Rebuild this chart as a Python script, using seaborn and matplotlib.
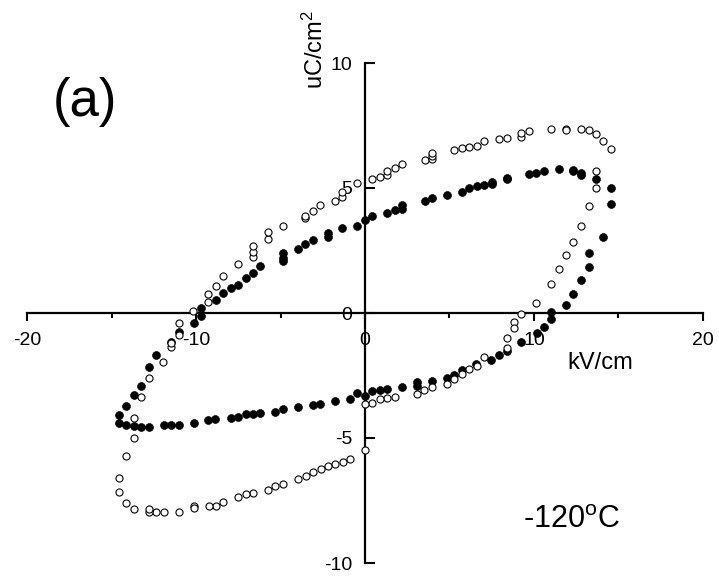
import matplotlib
matplotlib.use('Agg')
import matplotlib.pyplot as plt
import seaborn as sns
import pandas as pd

# filled circles (first loop)
filled_x = [-14.56, -14.56, -14.12, -13.67, -13.24, -12.78, -12.34, -11.48, -11.02, -10.14,
            -9.70, -9.70, -8.84, -8.38, -7.95, -7.50, -7.06, -6.63, -6.19, -4.83,
            -4.83, -4.83, -3.98, -3.55, -3.10, -2.21, -2.21, -1.34, -0.45, 0.0,
            0.43, 1.32, 1.76, 2.19, 2.19, 3.53, 3.96, 4.83, 5.72, 6.15,
            6.61, 7.04, 7.50, 7.50, 8.38, 8.38, 9.70, 10.14, 10.57, 11.46,
            12.33, 12.33, 12.76, 12.76, 13.67, 14.54, 14.54, 14.10, 13.24, 13.24,
            12.78, 12.33, 11.89, 11.01, 11.01, 10.59, 10.16, 9.23, 8.38, 7.93,
            7.47, 6.59, 5.72, 5.29, 4.83, 3.94, 3.06, 3.06, 2.19, 1.32,
            0.89, 0.43, 0.0, -0.45, -0.89, -1.75, -2.66, -3.10, -3.96, -4.87,
            -5.31, -6.21, -6.63, -7.04, -7.50, -7.93, -8.88, -9.31, -10.14, -11.02,
            -11.46, -11.89, -12.78, -13.23, -13.67, -14.12]
filled_y = [-4.39, -4.08, -3.73, -3.28, -2.93, -2.17, -1.69, -1.17, -0.75, -0.40,
            -0.12, 0.19, 0.51, 0.81, 0.99, 1.13, 1.39, 1.61, 1.88, 2.09,
            2.21, 2.39, 2.57, 2.76, 2.91, 3.05, 3.21, 3.40, 3.49, 3.72,
            3.88, 3.99, 4.11, 4.16, 4.33, 4.48, 4.59, 4.72, 4.84, 4.99,
            5.08, 5.12, 5.16, 5.23, 5.35, 5.41, 5.55, 5.59, 5.69, 5.75,
            5.72, 5.67, 5.61, 5.52, 5.36, 4.99, 4.35, 3.04, 2.41, 1.84,
            1.31, 0.76, 0.33, 0.03, -0.25, -0.55, -0.81, -1.15, -1.52, -1.68,
            -1.87, -2.04, -2.28, -2.48, -2.60, -2.72, -2.77, -2.91, -2.97, -3.04,
            -3.08, -3.11, -3.30, -3.19, -3.45, -3.51, -3.64, -3.69, -3.77, -3.85,
            -3.96, -4.01, -4.05, -4.05, -4.15, -4.19, -4.24, -4.28, -4.39, -4.47,
            -4.48, -4.49, -4.55, -4.55, -4.51, -4.49]

# open circles (second loop)
open_x = [0.0, -0.89, -1.32, -1.76, -2.19, -2.62, -3.08, -3.52, -3.96, -4.87,
          -5.31, -5.74, -6.61, -7.06, -7.50, -8.38, -8.82, -9.25, -10.14, -10.14,
          -11.02, -11.91, -12.34, -12.78, -12.78, -13.67, -14.12, -14.56, -14.56, -14.12,
          -13.69, -13.69, -13.24, -12.80, -11.93, -11.48, -11.48, -11.02, -11.02, -10.16,
          -9.27, -9.27, -8.84, -8.38, -7.51, -6.63, -6.63, -6.63, -5.74, -5.74,
          -4.85, -3.55, -3.55, -3.10, -2.64, -1.78, -1.34, -1.34, -0.46, 0.43,
          0.89, 1.32, 1.32, 1.76, 2.19, 3.53, 3.96, 3.96, 3.96, 5.29,
          5.72, 6.15, 6.61, 7.04, 7.93, 8.38, 9.25, 9.25, 9.70, 11.01,
          11.89, 11.89, 12.76, 13.24, 13.67, 14.10, 14.54, 13.67, 13.67, 13.24,
          12.78, 12.33, 11.89, 11.46, 11.01, 10.14, 9.23, 8.82, 8.82, 8.38,
          8.38, 7.04, 6.61, 6.15, 5.72, 5.29, 4.83, 3.94, 3.51, 3.06,
          1.76, 1.32, 0.89, 0.43, 0.0]
open_y = [-5.48, -5.83, -5.95, -6.03, -6.11, -6.24, -6.37, -6.50, -6.62, -6.84,
          -6.92, -7.07, -7.19, -7.25, -7.37, -7.56, -7.71, -7.72, -7.72, -7.81,
          -7.95, -7.95, -7.95, -7.95, -7.85, -7.84, -7.61, -7.17, -6.61, -5.73,
          -5.00, -4.20, -3.35, -2.59, -1.95, -1.35, -1.21, -0.88, -0.41, 0.07,
          0.46, 0.78, 1.08, 1.48, 1.97, 2.25, 2.45, 2.67, 2.95, 3.23,
          3.47, 3.79, 3.88, 4.08, 4.33, 4.48, 4.65, 4.83, 5.21, 5.35,
          5.45, 5.53, 5.67, 5.80, 5.95, 6.11, 6.15, 6.28, 6.39, 6.53,
          6.61, 6.63, 6.69, 6.87, 6.96, 7.01, 7.04, 7.20, 7.27, 7.37,
          7.37, 7.32, 7.37, 7.32, 7.15, 6.87, 6.56, 5.69, 5.00, 4.28,
          3.49, 2.84, 2.33, 1.76, 1.16, 0.39, -0.04, -0.36, -0.61, -1.00,
          -1.39, -1.75, -2.13, -2.22, -2.43, -2.65, -2.84, -2.97, -3.07, -3.24,
          -3.37, -3.41, -3.45, -3.58, -3.63]

x_ticks = [-20, -10, 0, 10, 20]
x_minor = [-15, -5, 5, 15]
y_ticks = [-10, -5, 0, 5, 10]

sns.set_style('white')
plt.rcParams['font.family'] = ['Liberation Sans', 'DejaVu Sans']
plt.rcParams['axes.unicode_minus'] = False
plt.rcParams['mathtext.default'] = 'regular'
plt.rcParams['text.color'] = 'black'
plt.rcParams['xtick.color'] = 'black'
plt.rcParams['ytick.color'] = 'black'

df_filled = pd.DataFrame({'E': filled_x, 'P': filled_y})
df_open = pd.DataFrame({'E': open_x, 'P': open_y})

fig = plt.figure(figsize=(7.19, 5.78), dpi=100)
ax = fig.add_axes([0, 0, 1, 1])

sns.scatterplot(data=df_filled, x='E', y='P', ax=ax, color='black',
                edgecolor='black', s=32, linewidth=0.5, zorder=3)
sns.scatterplot(data=df_open, x='E', y='P', ax=ax, color='white',
                edgecolor='black', s=26, linewidth=0.8, zorder=4)

ax.set_xlim(-21.6, 20.95)
ax.set_ylim(-10.6, 12.52)
ax.set_xlabel('')
ax.set_ylabel('')

# axes crossing at the origin
for side in ['top', 'right']:
    ax.spines[side].set_visible(False)
ax.spines['left'].set_position(('data', 0))
ax.spines['bottom'].set_position(('data', 0))
ax.spines['left'].set_bounds(-10, 10)
ax.spines['bottom'].set_bounds(-20, 20)
for side in ['left', 'bottom']:
    ax.spines[side].set_linewidth(1.6)
    ax.spines[side].set_color('black')

ax.set_xticks(x_ticks)
ax.set_xticks(x_minor, minor=True)
ax.set_yticks(y_ticks)
ax.tick_params(axis='x', which='major', direction='out', length=6, width=1.5,
               pad=8, labelsize=14, bottom=True, colors='black')
ax.tick_params(axis='x', which='minor', direction='out', length=3.5, width=1.5,
               bottom=True, colors='black')
ax.tick_params(axis='y', which='major', direction='in', length=7.5, width=1.5,
               pad=9, labelsize=14, left=True, colors='black')

ax.text(-2.95, 10.55, 'uC/cm$^2$', rotation=90, ha='center', va='center',
        fontsize=17, color='black')
ax.text(13.9, -2.0, 'kV/cm', ha='center', va='center', fontsize=17,
        color='black')
ax.text(-16.57, 8.44, '(a)', ha='center', va='center', fontsize=38,
        color='black')
ax.text(9.35, -8.6, '-120$^{o}$C', ha='left', va='baseline', fontsize=22,
        color='black')

fig.savefig('out.png', dpi=100)
